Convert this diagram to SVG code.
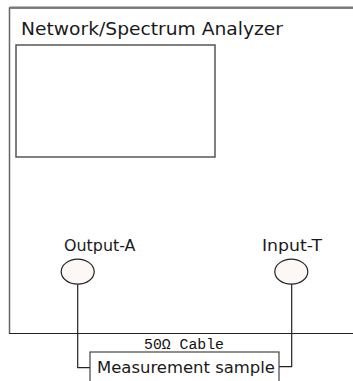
<svg xmlns="http://www.w3.org/2000/svg" width="353" height="381" viewBox="0 0 353 381">
  <style>
    .lbl { font-family: "DejaVu Sans", Verdana, sans-serif; fill: #1a1a1a; }
    .box { fill: #fff; stroke: #555; stroke-width: 1.5; }
    .port { fill: #fdf7f5; stroke: #222; stroke-width: 1.2; }
    .wire { fill: none; stroke: #222; stroke-width: 1.2; }
    .mono { font-family: "Liberation Mono", "DejaVu Sans Mono", monospace; fill: #111; }
  </style>
  <rect width="353" height="381" fill="#fff"/>
  <g id="analyzer">
    <path d="M9.5,333.5 V8 H360" fill="none" stroke="#666" stroke-width="1.5"/>
    <path d="M9.5,7.5 H360" fill="none" stroke="#777" stroke-width="2"/>
    <path d="M9,333.5 H360" fill="none" stroke="#222" stroke-width="1.2"/>
    <text class="lbl" x="21" y="35" font-size="17.5" textLength="262" lengthAdjust="spacingAndGlyphs">Network/Spectrum Analyzer</text>
  </g>
  <g id="screen">
    <rect class="box" x="16" y="45" width="199" height="112"/>
  </g>
  <g id="output-a">
    <text class="lbl" x="64" y="250.5" font-size="15.5" textLength="71.5" lengthAdjust="spacingAndGlyphs">Output-A</text>
    <ellipse class="port" cx="77.7" cy="271.7" rx="16.5" ry="12.5"/>
  </g>
  <g id="input-t">
    <text class="lbl" x="262" y="250.5" font-size="15.5" textLength="60" lengthAdjust="spacingAndGlyphs">Input-T</text>
    <ellipse class="port" cx="291.3" cy="271.7" rx="16.5" ry="12.5"/>
  </g>
  <g id="connectors">
    <path class="wire" d="M77.7,284.2 V367.7 H90"/>
    <path class="wire" d="M291.7,284.2 V366.7 H279"/>
    <text class="mono" x="144" y="349.3" font-size="14" textLength="80" lengthAdjust="spacingAndGlyphs">50Ω Cable</text>
  </g>
  <g id="sample">
    <rect x="90" y="352" width="189" height="40" fill="#fff" stroke="#444" stroke-width="1.2"/>
    <text class="lbl" x="97" y="373" font-size="15" textLength="178" lengthAdjust="spacingAndGlyphs">Measurement sample</text>
  </g>
</svg>
